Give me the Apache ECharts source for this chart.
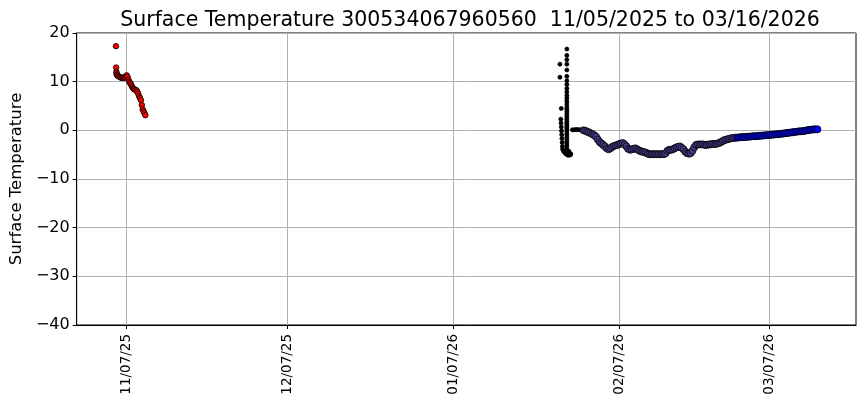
<!DOCTYPE html>
<html>
<head>
<meta charset="utf-8">
<script src="https://cdn.jsdelivr.net/npm/echarts@6/dist/echarts.min.js"></script>
<style>
html,body{margin:0;padding:0;background:#fff;}
#chart{width:863px;height:408px;}
</style>
</head>
<body>
<div id="chart"></div>
<script>
// ---- data ----
const titleText = 'Surface Temperature 300534067960560  11/05/2025 to 03/16/2026';
const yAxisName = 'Surface Temperature';
const xTickDates = ['2025-11-07T00:00', '2025-12-07T00:00', '2026-01-07T00:00', '2026-02-07T00:00', '2026-03-07T00:00'];
const xTickLabels = ['11/07/25', '12/07/25', '01/07/26', '02/07/26', '03/07/26'];
const xMinDate = '2025-10-28T16:00';
const xMaxDate = '2026-03-23T05:00';
const yTicks = [-40, -30, -20, -10, 0, 10, 20];

// red (early deployment): first readings, then 4-hourly trail
const redFirstTimes = ['2025-11-05T00:00', '2025-11-05T01:00', '2025-11-05T02:00', '2025-11-05T03:00'];
const redFirstValues = [17.3, 12.9, 12.0, 11.7];
const redStart = '2025-11-05T04:00';
const redStepHours = 4;
const redValues = [11.4, 11.2, 11.1, 11.0, 10.9, 10.8, 10.8, 10.8, 10.8, 10.9,
  11.1, 11.3, 11.0, 10.4, 10.0, 9.7, 9.4, 9.0, 8.7, 8.5,
  8.4, 8.3, 8.2, 7.9, 7.5, 7.0, 6.6, 6.2, 5.2, 4.3,
  3.9, 3.5, 3.1];

// black (re-deployment transient)
const blackTimes = ['2026-01-26T22:00', '2026-01-26T22:00', '2026-01-27T04:00',
  '2026-01-27T02:00', '2026-01-27T03:00', '2026-01-27T04:00', '2026-01-27T05:00', '2026-01-27T06:00',
  '2026-01-27T07:00', '2026-01-27T08:00', '2026-01-27T09:00', '2026-01-27T10:00',
  '2026-01-27T14:00', '2026-01-27T20:00', '2026-01-28T02:00', '2026-01-28T10:00', '2026-01-28T16:00', '2026-01-28T22:00',
  '2026-01-28T05:00', '2026-01-28T05:00', '2026-01-28T05:00', '2026-01-28T05:00', '2026-01-28T05:00',
  '2026-01-28T05:00', '2026-01-28T05:00', '2026-01-28T05:00', '2026-01-28T05:00', '2026-01-28T05:00',
  '2026-01-28T05:00', '2026-01-28T05:00', '2026-01-28T05:00', '2026-01-28T05:00', '2026-01-28T05:00',
  '2026-01-28T05:00', '2026-01-28T05:00', '2026-01-28T05:00', '2026-01-28T05:00', '2026-01-28T05:00',
  '2026-01-28T05:00', '2026-01-28T05:00', '2026-01-28T05:00', '2026-01-28T05:00', '2026-01-28T05:00',
  '2026-01-28T05:00', '2026-01-28T05:00', '2026-01-28T05:00', '2026-01-28T05:00', '2026-01-28T05:00',
  '2026-01-28T05:00', '2026-01-28T05:00', '2026-01-28T05:00',
  '2026-01-28T14:00', '2026-01-28T22:00', '2026-01-29T06:00', '2026-01-29T14:00', '2026-01-29T22:00',
  '2026-01-30T06:00', '2026-01-30T14:00', '2026-01-30T22:00', '2026-01-31T02:00'];
const blackValues = [13.6, 10.9, 4.5,
  2.3, 1.5, 0.7, -0.1, -0.9, -1.7, -2.5, -3.3, -3.9,
  -4.3, -4.6, -4.9, -5.1, -5.1, -5.0,
  16.7, 15.4, 14.5, 13.6, 12.4, 11.1, 10.2, 9.4, 8.6, 7.9, 7.2, 6.6, 6.0, 5.4, 4.8, 4.3, 3.8,
  3.3, 2.8, 2.3, 1.8, 1.4, 1.0, 0.6, 0.2, -0.3, -0.8, -1.3, -1.8, -2.3, -2.8, -3.3, -3.8, -4.3, -4.8,
  0.1, 0.1, 0.15, 0.15, 0.1, 0.1, 0.1, 0.1, 0.05];

// purple (8-hourly from 01/31 08:00)
const purpleStart = '2026-01-31T08:00';
const purpleStepHours = 8;
const purpleValues = [0.0, -0.1, -0.3, -0.4, -0.6, -0.8, -1.0, -1.3, -1.9, -2.4,
  -2.7, -3.0, -3.3, -3.7, -3.9, -3.7, -3.4, -3.2, -3.1, -3.0,
  -2.8, -2.7, -2.6, -2.9, -3.3, -3.8, -4.0, -3.9, -3.8, -3.7,
  -3.9, -4.1, -4.3, -4.4, -4.5, -4.6, -4.8, -4.9, -4.9, -4.9,
  -4.9, -4.9, -4.9, -4.9, -4.9, -4.9, -4.7, -4.2, -4.0, -4.0,
  -3.9, -3.7, -3.5, -3.4, -3.3, -3.6, -3.9, -4.4, -4.7, -4.8,
  -4.7, -4.2, -3.5, -3.0, -2.9, -2.9, -2.9, -2.9, -3.0, -3.0,
  -2.9, -2.9, -2.8, -2.8, -2.8, -2.7, -2.6, -2.4, -2.2, -2.0,
  -1.9, -1.8, -1.7, -1.6, -1.6, -1.5];

// blue (8-hourly from 03/01 00:00)
const blueStart = '2026-03-01T00:00';
const blueStepHours = 8;
const blueValues = [-1.5, -1.45, -1.4, -1.4, -1.35, -1.35, -1.3, -1.3, -1.25, -1.2,
  -1.2, -1.2, -1.15, -1.1, -1.1, -1.05, -1.0, -1.0, -0.95, -0.9,
  -0.9, -0.85, -0.8, -0.8, -0.75, -0.7, -0.65, -0.6, -0.55, -0.5,
  -0.45, -0.4, -0.35, -0.3, -0.25, -0.2, -0.2, -0.15, -0.1, 0.0,
  0.05, 0.1, 0.15, 0.2, 0.2, 0.2];

// ---- build ----
const ts = s => new Date(s + ':00Z').getTime();
const HOUR = 3600 * 1000;
const pairs = (times, vals) => vals.map((v, i) => [ts(times[i]), v]);
const stepped = (start, step, vals) => vals.map((v, i) => [ts(start) + i * step * HOUR, v]);

const FONT = 'DejaVu Sans';
const chart = echarts.init(document.getElementById('chart'), null, {renderer: 'canvas'});
const tickVals = xTickDates.map(ts);

function scatter(name, data, color, size, z) {
  return {
    name: name, type: 'scatter', data: data, symbol: 'circle', symbolSize: size,
    itemStyle: {color: color, borderColor: '#000', borderWidth: 0.8, opacity: 1},
    emphasis: {disabled: true}, silent: true, animation: false, z: z
  };
}

chart.setOption({
  animation: false,
  backgroundColor: '#fff',
  title: {
    text: titleText, left: 465, top: 5, textAlign: 'center',
    textStyle: {fontFamily: FONT, fontSize: 20.5, fontWeight: 'normal', color: '#000'}
  },
  grid: {left: 75, right: 7, top: 33, bottom: 83, show: true, borderColor: '#000', borderWidth: 1, backgroundColor: 'transparent'},
  xAxis: {
    type: 'value', min: ts(xMinDate), max: ts(xMaxDate), scale: true,
    axisLine: {show: true, onZero: false, lineStyle: {color: '#000', width: 1}},
    axisTick: {show: true, inside: false, length: 4, lineStyle: {color: '#000'}, customValues: tickVals},
    axisLabel: {
      customValues: tickVals, rotate: 90, margin: 9, color: '#000', fontFamily: FONT, fontSize: 13.5,
      formatter: function (v) { const i = tickVals.indexOf(v); return i >= 0 ? xTickLabels[i] : ''; }
    },
    splitLine: {show: true, lineStyle: {color: '#b0b0b0', width: 1}}
  },
  yAxis: {
    type: 'value', min: -40, max: 20, interval: 10,
    name: yAxisName, nameLocation: 'middle', nameGap: 47, nameRotate: 90,
    nameTextStyle: {fontFamily: FONT, fontSize: 16.5, color: '#000'},
    axisLine: {show: true, lineStyle: {color: '#000', width: 1}},
    axisTick: {show: true, inside: false, length: 4, lineStyle: {color: '#000'}},
    axisLabel: {
      color: '#000', fontFamily: FONT, fontSize: 16, margin: 7,
      formatter: v => (v < 0 ? '\u2212' + Math.abs(v) : String(v))
    },
    splitLine: {show: true, lineStyle: {color: '#b0b0b0', width: 1}}
  },
  series: [
    scatter('red', pairs(redFirstTimes, redFirstValues).concat(stepped(redStart, redStepHours, redValues)), '#ff0000', 5.5, 3),
    scatter('black', pairs(blackTimes, blackValues), '#000000', 4, 4),
    scatter('purple', stepped(purpleStart, purpleStepHours, purpleValues), '#483d8b', 7, 5),
    scatter('blue', stepped(blueStart, blueStepHours, blueValues), '#0000ff', 7, 6)
  ]
});
</script>
</body>
</html>
